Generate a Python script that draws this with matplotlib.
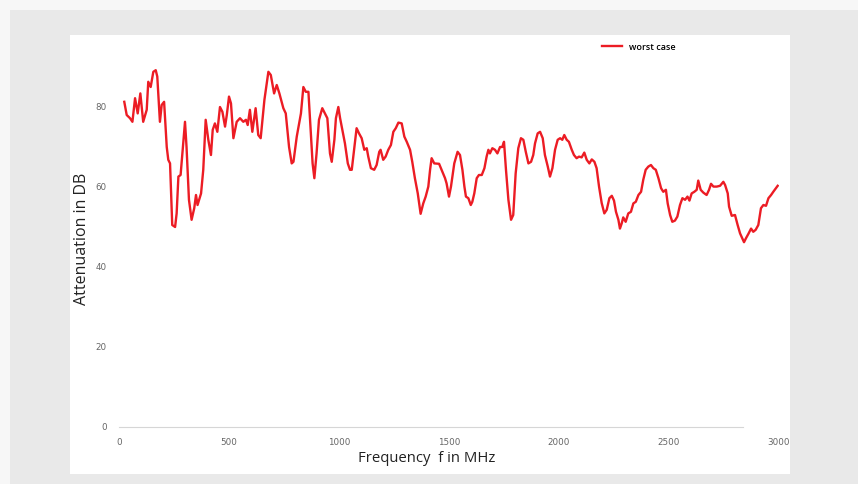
import matplotlib
matplotlib.use("Agg")
import matplotlib.pyplot as plt
from matplotlib.patches import Rectangle

# frequency (MHz) / worst-case attenuation (dB)
freq = [24, 35, 50, 61, 73, 85, 97, 110, 126, 133, 144, 156, 167, 174, 186, 194,
        205, 217, 224, 232, 242, 255, 262, 270, 280, 292, 300, 307, 318, 330, 342,
        350, 357, 373, 383, 394, 406, 418, 426, 436, 447, 459, 470, 482, 490, 500,
        509, 520, 535, 550, 565, 577, 585, 595, 606, 621, 633, 644, 661, 679, 690,
        705, 717, 729, 747, 758, 773, 785, 793, 808, 827, 838, 849, 861, 873, 880,
        888, 898, 909, 924, 936, 947, 959, 967, 979, 986, 997, 1005, 1015, 1027,
        1040, 1050, 1058, 1070, 1080, 1091, 1103, 1115, 1126, 1133, 1145, 1160,
        1171, 1183, 1189, 1201, 1212, 1224, 1236, 1247, 1258, 1270, 1285, 1297,
        1308, 1323, 1333, 1345, 1358, 1371, 1383, 1394, 1406, 1414, 1421, 1433,
        1455, 1470, 1482, 1489, 1500, 1509, 1524, 1539, 1550, 1561, 1570, 1577,
        1588, 1599, 1606, 1615, 1626, 1636, 1649, 1661, 1671, 1679, 1686, 1697,
        1709, 1720, 1732, 1742, 1750, 1759, 1770, 1782, 1792, 1803, 1815, 1827,
        1838, 1849, 1861, 1873, 1883, 1891, 1903, 1914, 1926, 1936, 1949, 1959,
        1970, 1982, 1994, 2005, 2015, 2024, 2035, 2045, 2058, 2068, 2080, 2091,
        2103, 2115, 2126, 2138, 2149, 2161, 2171, 2182, 2194, 2206, 2217, 2229,
        2240, 2250, 2259, 2270, 2277, 2285, 2292, 2303, 2315, 2327, 2338, 2349,
        2361, 2373, 2383, 2394, 2406, 2418, 2429, 2440, 2452, 2464, 2474, 2486,
        2494, 2505, 2515, 2527, 2538, 2550, 2561, 2573, 2584, 2593, 2603, 2615,
        2626, 2633, 2644, 2656, 2671, 2682, 2691, 2702, 2717, 2732, 2747, 2755,
        2767, 2773, 2785, 2800, 2812, 2823, 2833, 2841, 2850, 2861, 2873, 2883,
        2894, 2906, 2918, 2929, 2941, 2952, 2964, 2974, 2985, 2994]
worst = [81.3, 78.0, 77.2, 76.3, 82.2, 78.4, 83.4, 76.3, 79.3, 86.3, 85.0, 88.8,
         89.2, 87.6, 76.3, 80.5, 81.3, 70.0, 66.8, 65.9, 50.5, 50.0, 53.4, 62.6,
         63.0, 70.9, 76.3, 70.0, 56.8, 51.8, 54.7, 58.0, 55.5, 58.4, 64.3, 76.8,
         71.8, 68.0, 74.3, 75.9, 73.8, 80.0, 78.8, 75.1, 78.0, 82.6, 80.9, 72.2,
         76.3, 77.2, 76.3, 76.8, 75.5, 79.3, 73.8, 79.7, 73.0, 72.2, 81.8, 88.8,
         88.0, 83.4, 85.5, 83.4, 79.7, 78.4, 70.0, 65.9, 66.3, 72.6, 78.4, 85.0,
         83.8, 83.8, 72.6, 65.9, 62.2, 68.4, 76.8, 79.7, 78.4, 77.2, 68.4, 66.3,
         71.8, 77.2, 80.0, 77.2, 74.3, 70.9, 65.9, 64.3, 64.3, 70.0, 74.7, 73.4,
         72.2, 69.3, 69.7, 67.6, 64.7, 64.3, 65.5, 68.8, 69.3, 66.8, 67.6, 69.3,
         70.5, 73.8, 74.7, 76.1, 75.9, 72.6, 71.3, 69.3, 66.3, 62.2, 58.4, 53.3,
         55.9, 57.6, 60.1, 64.3, 67.2, 65.9, 65.8, 63.8, 62.2, 60.9, 57.6, 60.1,
         65.9, 68.8, 68.0, 64.3, 60.1, 57.6, 57.2, 55.5, 56.3, 58.4, 62.2, 63.0,
         63.0, 64.7, 67.6, 69.3, 68.4, 69.7, 69.3, 68.4, 70.0, 70.0, 71.3, 64.3,
         56.8, 51.8, 53.0, 63.4, 69.7, 72.2, 71.8, 68.8, 65.9, 66.3, 68.0, 70.9,
         73.4, 73.8, 72.2, 68.0, 65.1, 62.6, 64.7, 69.3, 71.8, 72.2, 71.8, 73.0,
         71.8, 71.3, 69.3, 68.0, 67.2, 67.6, 67.4, 68.6, 66.8, 65.9, 66.9, 66.3,
         64.7, 60.1, 56.0, 53.4, 54.3, 57.2, 57.8, 56.6, 53.8, 51.8, 49.6, 50.9,
         52.4, 51.3, 53.4, 53.8, 55.9, 56.3, 58.0, 58.8, 61.8, 64.3, 65.1, 65.5,
         64.7, 64.3, 62.2, 59.7, 58.8, 59.3, 55.9, 53.0, 51.3, 51.6, 52.6, 55.5,
         57.2, 56.8, 57.6, 56.6, 58.4, 58.8, 59.3, 61.6, 59.3, 58.6, 58.0, 59.3,
         60.8, 60.1, 60.1, 60.3, 61.3, 60.5, 58.4, 55.1, 52.8, 53.0, 50.5, 48.4,
         47.2, 46.2, 47.2, 48.3, 49.6, 48.8, 49.3, 50.5, 54.7, 55.5, 55.3, 57.2,
         58.0, 58.8, 59.6, 60.3]

x_ticks = [0, 500, 1000, 1500, 2000, 2500, 3000]
x_labels = ["0", "500", "1000", "1500", "2000", "2500", "3000"]
y_ticks = [0, 20, 40, 60, 80]

W, H = 858, 484
fig = plt.figure(figsize=(W / 100, H / 100), dpi=100, facecolor="#e9e9e9")

# lighter strips along the top / left edge, white panel behind the chart
for x0, y0, w, h, c in [(0, 1 - 10 / H, 1, 10 / H, "#f7f7f7"),
                        (0, 0, 10 / W, 1, "#f7f7f7"),
                        (70 / W, (H - 474) / H, 720 / W, 439 / H, "white")]:
    fig.patches.append(Rectangle((x0, y0), w, h, transform=fig.transFigure,
                                 facecolor=c, edgecolor="none", zorder=-5))

ax = fig.add_axes([119 / W, (H - 427) / H, 660 / W, 368 / H], zorder=2)
ax.set_facecolor("none")
ax.plot(freq, worst, color="#ec1c24", linewidth=1.7, label="worst case")
ax.axhline(0, xmin=0, xmax=0.945, color="#d6d6d6", linewidth=0.8, clip_on=False)

ax.set_xlim(0, 3000)
ax.set_ylim(0, 92)
ax.set_xticks(x_ticks)
ax.set_xticklabels(x_labels)
ax.set_yticks(y_ticks)
for s in ax.spines.values():
    s.set_visible(False)
ax.tick_params(axis="both", length=0, labelsize=6.3, labelcolor="#666666")
ax.tick_params(axis="x", pad=8)
ax.tick_params(axis="y", pad=9)

fig.text(427 / W, 1 - 459 / H, "Frequency  f in MHz", ha="center", va="center",
         fontsize=10.7, family="Open Sans", color="#222222")
fig.text(82 / W, 1 - 239 / H, "Attenuation in DB", ha="center", va="center",
         rotation=90, fontsize=11.5, family="Open Sans", color="#222222")

ax.legend(loc="center left", bbox_to_anchor=(594 / W, 1 - 47 / H),
          bbox_transform=fig.transFigure, frameon=False,
          handlelength=2.2, handletextpad=0.8,
          prop={"family": "Open Sans", "size": 6.5, "weight": "semibold"})

fig.savefig("out.png", dpi=100, facecolor=fig.get_facecolor())
